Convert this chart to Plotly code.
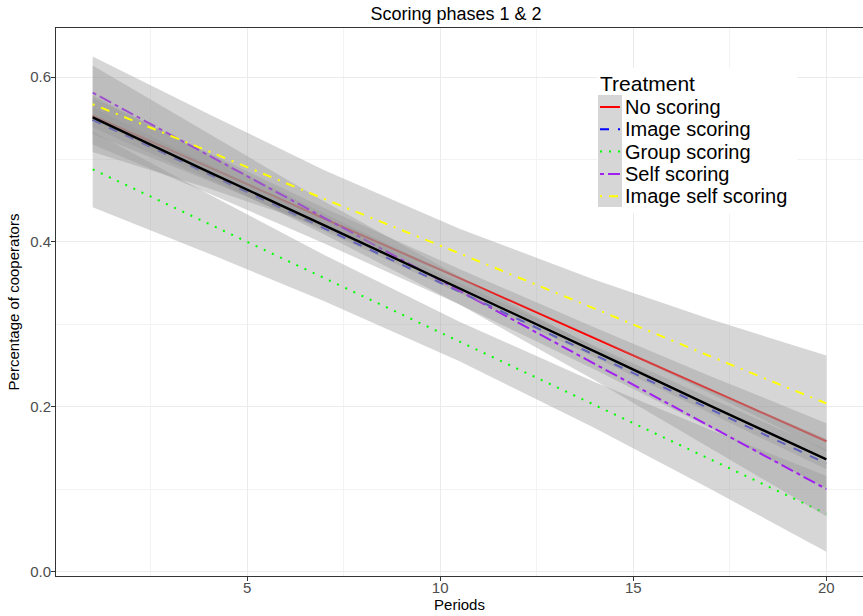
import plotly.graph_objects as go

# Linear fits of the share of cooperators over periods, per treatment,
# with the half-width of their confidence bands at the same periods.
periods = [1, 4, 7, 10.5, 14, 17, 20]

treatments = ["No scoring", "Image scoring", "Group scoring", "Self scoring", "Image self scoring"]

fit_no_scoring = [0.553, 0.491, 0.428, 0.356, 0.283, 0.220, 0.158]
fit_image_scoring = [0.548, 0.482, 0.416, 0.340, 0.263, 0.197, 0.131]
fit_group_scoring = [0.488, 0.422, 0.356, 0.279, 0.202, 0.136, 0.070]
fit_self_scoring = [0.581, 0.505, 0.429, 0.341, 0.252, 0.176, 0.100]
fit_image_self_scoring = [0.567, 0.510, 0.452, 0.386, 0.319, 0.261, 0.204]
fit_overall = [0.551, 0.485, 0.420, 0.344, 0.267, 0.201, 0.136]

hw_no_scoring = [0.022, 0.017, 0.013, 0.011, 0.013, 0.017, 0.022]
hw_image_scoring = [0.030, 0.023, 0.018, 0.016, 0.018, 0.023, 0.030]
hw_group_scoring = [0.046, 0.036, 0.028, 0.024, 0.028, 0.036, 0.046]
hw_self_scoring = [0.033, 0.026, 0.020, 0.017, 0.020, 0.026, 0.033]
hw_image_self_scoring = [0.058, 0.045, 0.035, 0.030, 0.035, 0.045, 0.058]
hw_overall = [0.012, 0.009, 0.007, 0.006, 0.007, 0.009, 0.012]

fits = [fit_no_scoring, fit_image_scoring, fit_group_scoring, fit_self_scoring, fit_image_self_scoring]
halfwidths = [hw_no_scoring, hw_image_scoring, hw_group_scoring, hw_self_scoring, hw_image_self_scoring]

colors = ["#FF0000", "#0000FF", "#00FF00", "#A020F0", "#FFFF00"]
dashes = ["solid", "9px,9px", "2px,7px", "4px,4px,13px,4px", "2px,7px,9px,7px"]

RIBBON = "rgba(153,153,153,0.4)"
FONT = "Liberation Sans, Arial, sans-serif"

fig = go.Figure()


def add_smooth(fit, hw, color, dash, width, name):
    upper = [f + h for f, h in zip(fit, hw)]
    lower = [f - h for f, h in zip(fit, hw)]
    fig.add_trace(go.Scatter(
        x=periods + periods[::-1], y=upper + lower[::-1],
        fill="toself", fillcolor=RIBBON, mode="lines", line=dict(width=0),
        hoverinfo="skip", showlegend=False))
    fig.add_trace(go.Scatter(
        x=periods, y=fit, mode="lines", name=name, showlegend=False,
        line=dict(color=color, width=width, dash=dash)))


for name, fit, hw, col, dsh in zip(treatments, fits, halfwidths, colors, dashes):
    add_smooth(fit, hw, col, dsh, 2, name)
add_smooth(fit_overall, hw_overall, "#000000", "solid", 2.4, "All")

# Plot area geometry in pixels, used to place the legend box
W, H = 863, 616
ML, MR, MT, MB = 56, 0, 28, 40
PW, PH = W - ML - MR, H - MT - MB


def px(xp):
    return (xp - ML) / PW


def py(yp):
    return (H - MB - yp) / PH


shapes = [
    dict(type="rect", xref="paper", yref="paper", layer="above",
         x0=px(597), x1=px(797), y0=py(213), y1=py(68),
         fillcolor="white", line=dict(width=0)),
    dict(type="rect", xref="paper", yref="paper", layer="above",
         x0=px(598), x1=px(622), y0=py(207), y1=py(95),
         fillcolor="#D6D6D6", line=dict(width=0)),
]
annotations = [
    dict(text="Treatment", xref="paper", yref="paper", x=px(598), y=py(83.5),
         xanchor="left", yanchor="middle", showarrow=False,
         font=dict(family=FONT, size=21, color="black")),
]
item_y = [107, 129.3, 151.6, 173.9, 196.2]
for name, col, dsh, yy in zip(treatments, colors, dashes, item_y):
    shapes.append(dict(type="line", xref="paper", yref="paper", layer="above",
                       x0=px(600), x1=px(620), y0=py(yy), y1=py(yy),
                       line=dict(color=col, width=2, dash=dsh)))
    annotations.append(dict(text=name, xref="paper", yref="paper",
                            x=px(623), y=py(yy), xanchor="left", yanchor="middle",
                            showarrow=False,
                            font=dict(family=FONT, size=20, color="black")))

axis_common = dict(
    showline=True, linecolor="#333333", linewidth=1, mirror=True,
    ticks="outside", ticklen=4, tickcolor="#333333", tickwidth=1,
    showgrid=True, gridcolor="#EBEBEB", gridwidth=1.2, zeroline=False,
    tickfont=dict(family=FONT, size=15, color="#4D4D4D"),
)

fig.update_layout(
    width=W, height=H,
    margin=dict(l=ML, r=MR, t=MT, b=MB),
    paper_bgcolor="white", plot_bgcolor="white",
    font=dict(family=FONT),
    title=dict(text="Scoring phases 1 &amp; 2", x=px(456), xref="paper",
               y=1 - 14 / H, yref="container", xanchor="center", yanchor="middle",
               font=dict(family=FONT, size=18, color="black")),
    xaxis=dict(range=[0.05, 20.95], tickmode="linear", tick0=0, dtick=5,
               ticklabelstandoff=-6,
               minor=dict(tick0=0, dtick=2.5, showgrid=True, gridcolor="#F3F3F3",
                          gridwidth=0.8, ticks=""),
               title=dict(text="Periods", standoff=4,
                          font=dict(family=FONT, size=15, color="black")),
               **axis_common),
    yaxis=dict(range=[-0.0055, 0.6595], tickmode="linear", tick0=0, dtick=0.2,
               tickformat=".1f", ticklabelstandoff=-3,
               minor=dict(tick0=0, dtick=0.1, showgrid=True, gridcolor="#F3F3F3",
                          gridwidth=0.8, ticks=""),
               title=dict(text="Percentage of cooperators", standoff=6,
                          font=dict(family=FONT, size=15, color="black")),
               **axis_common),
    shapes=shapes,
    annotations=annotations,
    showlegend=False,
)

fig.write_html("out.html")
